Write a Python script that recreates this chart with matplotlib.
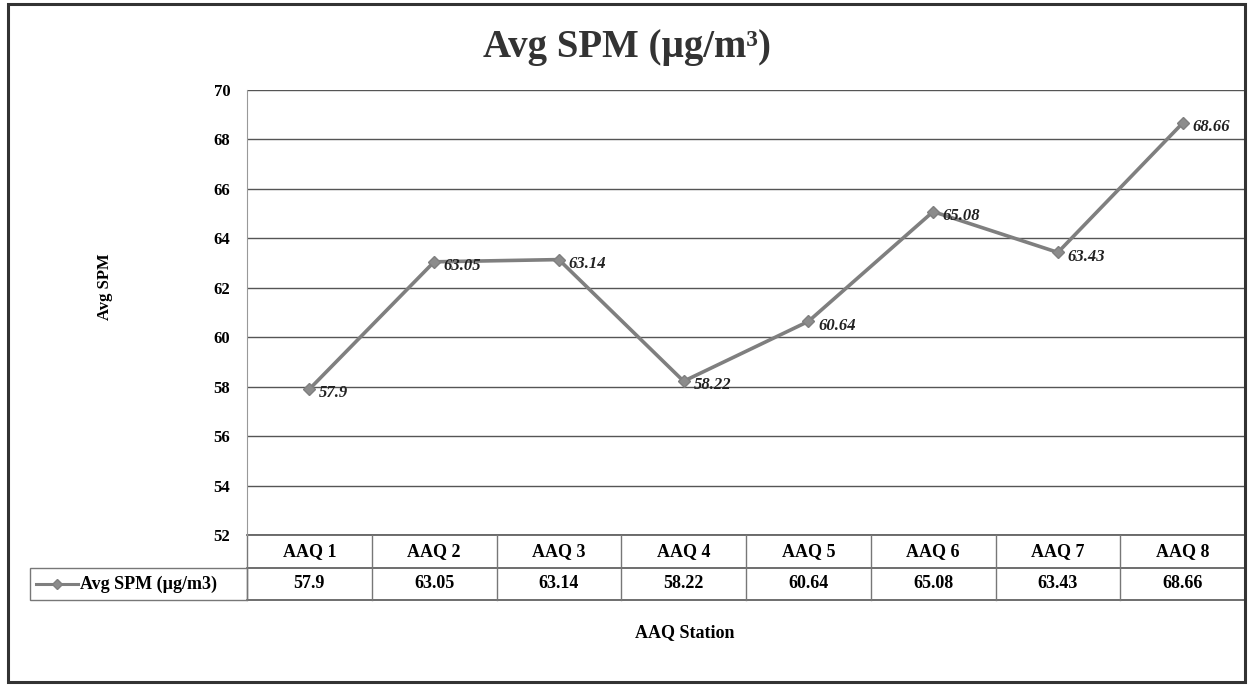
import matplotlib.pyplot as plt
import matplotlib.lines as mlines

stations = ['AAQ 1', 'AAQ 2', 'AAQ 3', 'AAQ 4', 'AAQ 5', 'AAQ 6', 'AAQ 7', 'AAQ 8']
spm = [57.9, 63.05, 63.14, 58.22, 60.64, 65.08, 63.43, 68.66]
value_labels = ['57.9', '63.05', '63.14', '58.22', '60.64', '65.08', '63.43', '68.66']
yticks = [52, 54, 56, 58, 60, 62, 64, 66, 68, 70]

plt.rcParams['font.family'] = ['Liberation Serif', 'DejaVu Serif']

W, H = 1248, 685
fig = plt.figure(figsize=(W / 100, H / 100), dpi=100)
fig.patch.set_facecolor('white')

# outer chart border
fig.add_artist(plt.Rectangle((8 / W, 3 / H), 1237 / W, 678 / H, transform=fig.transFigure,
                             fill=False, edgecolor='#333333', linewidth=2.2))

ax = fig.add_axes([247 / W, 1 - 535 / H, 998 / W, 445 / H])
x = list(range(len(stations)))
ax.plot(x, spm, color='#7f7f7f', linewidth=2.6, marker='D', markersize=6,
        markerfacecolor='#8c8c8c', markeredgecolor='#7f7f7f', zorder=3)
for xi, v, lab in zip(x, spm, value_labels):
    ax.annotate(lab, (xi, v), xytext=(7, -3), textcoords='offset points',
                fontsize=12, fontstyle='italic', fontweight='bold', color='#222222',
                va='center', ha='left')

ax.set_xlim(-0.5, len(stations) - 0.5)
ax.set_ylim(52, 70)
ax.set_yticks(yticks)
ax.set_yticklabels([str(t) for t in yticks], fontsize=12, fontweight='bold')
ax.set_xticks([])
ax.tick_params(axis='y', length=0, pad=12)
ax.grid(axis='y', color='#555555', linewidth=1.0)
for s in ['top', 'right', 'bottom']:
    ax.spines[s].set_visible(False)
ax.spines['left'].set_color('#999999')

fig.text(627 / W, 1 - 48 / H, 'Avg SPM (µg/m³)', fontsize=28, fontweight='bold',
         color='#333333', ha='center', va='center')
fig.text(105 / W, 1 - 287 / H, 'Avg SPM', fontsize=12, fontweight='bold',
         rotation=90, ha='center', va='center')

# data table under the axis
tr = ax.get_xaxis_transform()
r1, r2 = -33 / 445, -65 / 445
for yy in [0, r1, r2]:
    ax.add_line(mlines.Line2D([-0.5, len(stations) - 0.5], [yy, yy], transform=tr,
                              color='#555555', linewidth=1.2, clip_on=False))
for k in range(len(stations) + 1):
    ax.add_line(mlines.Line2D([k - 0.5, k - 0.5], [0, r2], transform=tr,
                              color='#777777', linewidth=1.0, clip_on=False))
for xi, name, lab in zip(x, stations, value_labels):
    ax.text(xi, r1 / 2, name, transform=tr, ha='center', va='center',
            fontsize=13, fontweight='bold', clip_on=False)
    ax.text(xi, (r1 + r2) / 2, lab, transform=tr, ha='center', va='center',
            fontsize=13, fontweight='bold', clip_on=False)

# legend cell on the left of the value row
fig.add_artist(plt.Rectangle((30 / W, 1 - 600 / H), 217 / W, 32 / H, transform=fig.transFigure,
                             fill=False, edgecolor='#777777', linewidth=1.0))
fig.add_artist(mlines.Line2D([36 / W, 78 / W], [1 - 584 / H] * 2, transform=fig.transFigure,
                             color='#7f7f7f', linewidth=2.2))
fig.add_artist(mlines.Line2D([57 / W], [1 - 584 / H], transform=fig.transFigure,
                             color='#7f7f7f', marker='D', markersize=5,
                             markerfacecolor='#8c8c8c', linestyle='none'))
fig.text(80 / W, 1 - 584 / H, 'Avg SPM (µg/m3)', fontsize=13, fontweight='bold',
         va='center', ha='left')

fig.text(685 / W, 1 - 633 / H, 'AAQ Station', fontsize=13, fontweight='bold',
         ha='center', va='center')

fig.savefig('out.png', dpi=100)
